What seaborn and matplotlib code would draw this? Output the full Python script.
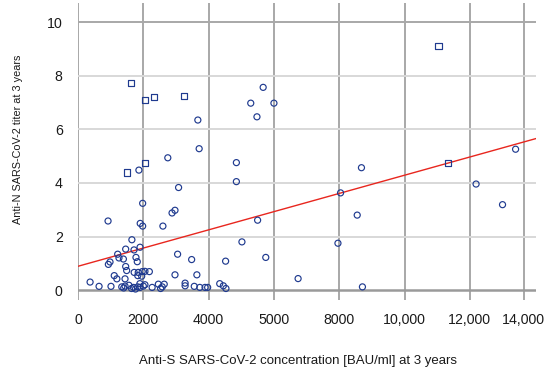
import numpy as np
import pandas as pd
import matplotlib
matplotlib.use("Agg")
import matplotlib.pyplot as plt
import seaborn as sns

# === DATA ===
# open circles: anti-S concentration [BAU/ml], anti-N titer
circle_s = [3670, 3710, 2750, 1865, 3080, 1980, 2970, 2880, 920, 1905, 1980, 2600, 1650,
            5670, 5290, 6000, 5480, 4850, 4850, 5500, 5020, 5750, 6740,
            8680, 8040, 8550, 7960, 8710, 12190, 13000, 13400,
            1460, 1715, 1900, 1215, 930, 980, 1255, 1390, 1775, 1815,
            1460, 1490, 1720, 1845, 1965, 2050, 2185, 1830, 1950, 1110, 1190, 1440, 1895,
            370, 645, 1010, 1340, 1400, 1440, 1560, 1640, 1700, 1760, 1830, 1900, 2000, 2050,
            2270, 2460, 2530, 2640, 2580,
            3050, 3480, 4520, 2970, 3640, 3280, 3280, 3560, 3730, 3890, 3970, 4340, 4450, 4530]
circle_n = [6.35, 5.28, 4.94, 4.48, 3.83, 3.24, 2.98, 2.88, 2.58, 2.49, 2.39, 2.39, 1.88,
            7.57, 6.98, 6.98, 6.47, 4.76, 4.05, 2.61, 1.80, 1.22, 0.43,
            4.57, 3.63, 2.80, 1.75, 0.12, 3.96, 3.19, 5.26,
            1.53, 1.50, 1.60, 1.34, 0.96, 1.05, 1.20, 1.16, 1.22, 1.06,
            0.88, 0.73, 0.66, 0.66, 0.69, 0.70, 0.69, 0.54, 0.52, 0.54, 0.42, 0.42, 0.24,
            0.30, 0.14, 0.14, 0.12, 0.08, 0.15, 0.18, 0.06, 0.10, 0.04, 0.12, 0.10, 0.15, 0.20,
            0.10, 0.22, 0.06, 0.22, 0.12,
            1.34, 1.14, 1.08, 0.57, 0.57, 0.26, 0.16, 0.14, 0.10, 0.10, 0.10, 0.24, 0.16, 0.06]
# open squares
square_s = [1610, 2060, 2315, 3240, 2060, 1490, 11040, 11340]
square_n = [7.72, 7.10, 7.20, 7.24, 4.74, 4.39, 9.11, 4.76]

x_ticks = [0, 2000, 4000, 6000, 8000, 10000, 12000, 13650]
x_tick_labels = ["0", "2000", "4000", "5000", "8000", "10,000", "12,000", "14,000"]
y_ticks = [0, 2, 4, 6, 8, 10]

df = pd.DataFrame({
    "anti_s": circle_s + square_s,
    "anti_n": circle_n + square_n,
    "shape": ["circle"] * len(circle_s) + ["square"] * len(square_s),
})

# === PLOT ===
sns.set_theme(style="white")
plt.rcParams["font.family"] = ["Liberation Sans", "DejaVu Sans"]

fig = plt.figure(figsize=(5.5, 3.89), dpi=100)
ax = fig.add_axes([78 / 550, 1 - 300 / 389, 458 / 550, 297 / 389])
ax.set_xlim(0, 14025)
ax.set_ylim(-0.37, 10.72)

blue = "#1f3a8f"
sns.regplot(data=df, x="anti_s", y="anti_n", scatter=False, ci=None, truncate=False,
            line_kws=dict(color="#e8261e", lw=1.0, zorder=3), ax=ax)
sns.scatterplot(data=df, x="anti_s", y="anti_n", style="shape",
                markers={"circle": "o", "square": "s"}, s=19,
                facecolor="none", edgecolor=blue, linewidth=0.85,
                legend=False, ax=ax, zorder=4)

for s in ax.spines.values():
    s.set_visible(False)

ax.set_xticks(x_ticks)
ax.set_xticklabels(x_tick_labels)
ax.set_yticks(y_ticks)
ax.tick_params(length=0, labelsize=10.2, colors="#1a1a1a")
ax.tick_params(axis="x", pad=9)
ax.tick_params(axis="y", pad=11)

ax.grid(axis="x", color="#a8a8a8", lw=1.4)
ax.grid(axis="y", color="#d8d8d8", lw=1.4)
ygl = ax.get_ygridlines()
ygl[0].set_color("#9a9a9a"); ygl[0].set_linewidth(1.8)
ygl[-1].set_color("#a8a8a8")
ax.set_axisbelow(True)

ax.set_xlabel("Anti-S SARS-CoV-2 concentration [BAU/ml] at 3 years", fontsize=9.5, color="#1a1a1a")
ax.set_ylabel("Anti-N SARS-CoV-2 titer at 3 years", fontsize=7.8, color="#1a1a1a")
ax.xaxis.set_label_coords(0.481, -0.185)
ax.yaxis.set_label_coords(-0.121, 0.54)

fig.savefig("out.png", dpi=100)
